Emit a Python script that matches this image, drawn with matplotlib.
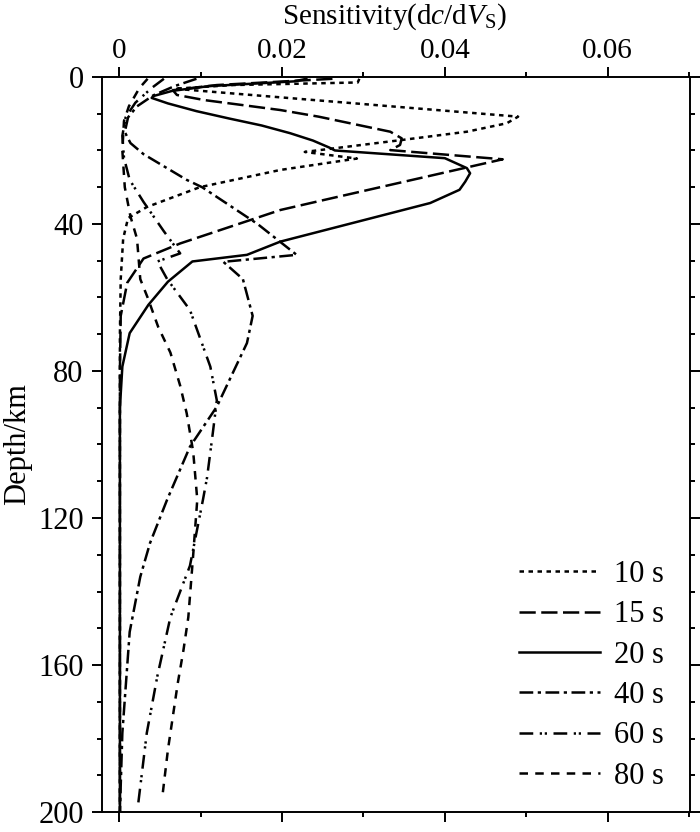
import matplotlib
matplotlib.use("Agg")
import matplotlib.pyplot as plt
from matplotlib.ticker import FixedLocator, MultipleLocator

plt.rcParams['font.family'] = 'Liberation Serif'
plt.rcParams['mathtext.fontset'] = 'custom'
plt.rcParams['mathtext.rm'] = 'Liberation Serif'
plt.rcParams['mathtext.it'] = 'Liberation Serif:italic'

# sensitivity kernels (depth in km, sensitivity dc/dVs)
depth_10s = [0.5, 1.5, 2.2, 3.2, 10.8, 12.6, 14.9, 17.1, 20.4, 22.2, 25.3, 30, 35.4, 38.4, 44, 55, 70, 200]
sens_10s = [0.0295, 0.0293, 0.014, 0.0068, 0.049, 0.0476, 0.0427, 0.0349, 0.0228, 0.0292, 0.0198, 0.0099,
            0.0034, 0.0011, 0.0005, 0.0002, 0.0001, 0.0001]

depth_15s = [0.5, 1.0, 2.2, 3.6, 4.9, 6.3, 9, 10.8, 14.9, 16.7, 18.5, 19.9, 22.4, 33.5, 36.2, 45.3, 49.4,
             56, 65, 80, 200]
sens_15s = [0.0262, 0.022, 0.012, 0.0066, 0.0071, 0.0105, 0.0198, 0.0245, 0.0333, 0.0347, 0.0345, 0.0333,
            0.0471, 0.0251, 0.0198, 0.0075, 0.003, 0.001, 0.0002, 0.0001, 0.0001]

depth_20s = [0.5, 1.2, 2.5, 3.8, 5.2, 5.7, 7.2, 9.3, 11.3, 13.2, 15.3, 17.3, 19.2, 20, 22.1, 24.8, 26.2, 28.5,
             30.7, 34.3, 44.8, 48.4, 50.2, 55.7, 62, 69.7, 78.8, 90, 200]
sens_20s = [0.023, 0.0215, 0.011, 0.0065, 0.0042, 0.004, 0.006, 0.0095, 0.0135, 0.0175, 0.021, 0.0238,
            0.0258, 0.0265, 0.040, 0.0427, 0.0431, 0.0425, 0.0418, 0.0382, 0.0198, 0.0157, 0.009, 0.006,
            0.0036, 0.0013, 0.0004, 0.0001, 0.0001]

depth_40s = [0.5, 2.5, 5, 8, 11, 15, 18, 21, 28, 30, 40, 48.4, 50.3, 55, 65, 72.4, 89.7, 100.6, 115, 126.8,
             136, 151, 178.5, 200]
sens_40s = [0.0095, 0.0068, 0.0042, 0.0022, 0.0011, 0.0007, 0.0014, 0.003, 0.0083, 0.0102, 0.017, 0.0218,
            0.0128, 0.0152, 0.0164, 0.0157, 0.012, 0.0087, 0.0059, 0.0038, 0.0026, 0.0013, 0.0004, 0.0001]

depth_60s = [0.5, 3, 7, 11, 16, 22, 28, 34, 42, 48, 50.2, 55, 63.4, 78.8, 88, 97, 109, 115, 133, 147, 163,
             178.5, 198.6]
sens_60s = [0.0055, 0.004, 0.002, 0.0008, 0.0004, 0.0006, 0.0013, 0.003, 0.0055, 0.0075, 0.0047, 0.0059,
            0.0087, 0.0112, 0.012, 0.0115, 0.0108, 0.0103, 0.0087, 0.0063, 0.0047, 0.0034, 0.0023]

depth_80s = [0.5, 3, 8, 12, 20, 30, 38, 44, 55, 60, 68, 75, 84, 91.5, 102, 115, 130, 147, 156, 165, 174,
             183, 196]
sens_80s = [0.0035, 0.0025, 0.0012, 0.0006, 0.0004, 0.0007, 0.0014, 0.0022, 0.0026, 0.0035, 0.0048, 0.0063,
            0.0075, 0.0083, 0.0091, 0.0096, 0.0091, 0.0085, 0.0079, 0.0072, 0.0066, 0.006, 0.0053]

labels = ['10 s', '15 s', '20 s', '40 s', '60 s', '80 s']
x_ticks = [0, 0.02, 0.04, 0.06]
x_ticklabels = ['0', '0.02', '0.04', '0.06']
y_ticks = [0, 40, 80, 120, 160, 200]

curves = [(sens_10s, depth_10s), (sens_15s, depth_15s), (sens_20s, depth_20s),
          (sens_40s, depth_40s), (sens_60s, depth_60s), (sens_80s, depth_80s)]
styles = [(0, (1.8, 1.8)),
          (0, (6.5, 2.2)),
          '-',
          (0, (5.5, 1.8, 1.3, 1.8)),
          (0, (5.5, 2.6, 0.9, 1.1, 0.9, 2.6)),
          (0, (3.4, 2.9))]

fig = plt.figure(figsize=(7, 8.32), dpi=100)
ax = fig.add_axes([0.1457, 0.024, 0.84, 0.8835])

for (xs, ys), ls, lab in zip(curves, styles, labels):
    ax.plot(xs, ys, color='black', lw=1.8, linestyle=ls, label=lab)

ax.set_xlim(-0.0021, 0.0701)
ax.set_ylim(200, 0)

ax.xaxis.set_major_locator(FixedLocator(x_ticks))
ax.xaxis.set_minor_locator(MultipleLocator(0.01))
ax.set_xticklabels(x_ticklabels)
ax.yaxis.set_major_locator(FixedLocator(y_ticks))
ax.yaxis.set_minor_locator(MultipleLocator(10))

ax.tick_params(axis='x', which='both', top=True, bottom=True, labeltop=True, labelbottom=False,
               direction='out')
ax.tick_params(axis='y', which='both', left=True, right=True, labelleft=True, direction='out')
ax.tick_params(which='major', length=7.2, width=1.4, labelsize=22)
ax.tick_params(axis='x', which='major', pad=2, labelsize=21)
ax.tick_params(axis='y', which='major', pad=6)
ax.tick_params(which='minor', length=3.6, width=1.4)
for sp in ax.spines.values():
    sp.set_linewidth(1.4)

# top axis title placed by hand so it sits above the tick labels
fig.text(0.563, 0.998, r'Sensitivity(d$\it{c}$/d$\it{V}_{\rm S}$)', fontsize=21,
         ha='center', va='top')
ax.set_ylabel('Depth/km', fontsize=22, labelpad=4)

ax.legend(loc='lower right', bbox_to_anchor=(0.9758, 0.0125), frameon=False, fontsize=22,
          handlelength=2.65, handletextpad=0.45, labelspacing=0.37, borderaxespad=0)

fig.savefig('out.png', dpi=100)
